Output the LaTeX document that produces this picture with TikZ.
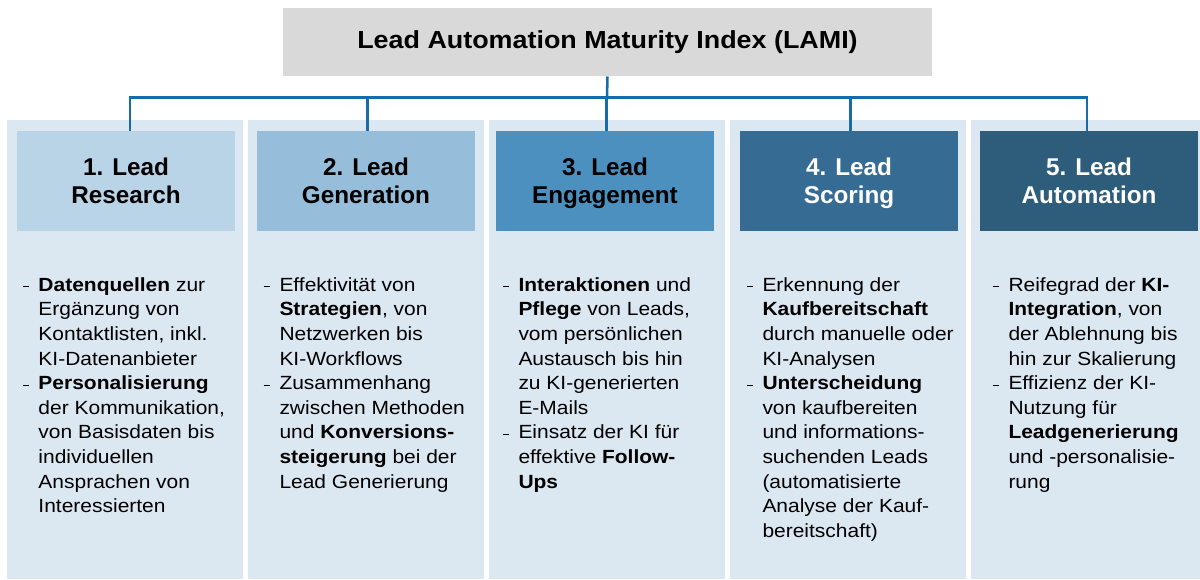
\documentclass[tikz,border=0pt]{standalone}
\usepackage{fontspec}
\setmainfont{Liberation Sans}
\newfontfamily\bodyfont[FakeStretch=1.1]{Liberation Sans}
\newfontfamily\titlefont[FakeStretch=1.09]{Liberation Sans}
\usetikzlibrary{positioning}

\definecolor{titlegray}{RGB}{217,217,217}
\definecolor{panelblue}{RGB}{219,231,241}
\definecolor{lineblue}{RGB}{24,106,168}
\definecolor{hdrone}{RGB}{185,212,231}
\definecolor{hdrtwo}{RGB}{150,189,218}
\definecolor{hdrthree}{RGB}{76,144,191}
\definecolor{hdrfour}{RGB}{54,108,147}
\definecolor{hdrfive}{RGB}{45,93,122}

\newcommand{\dl}{\makebox[12pt][l]{\rule[3pt]{5pt}{0.9pt}}}
\newcommand{\il}{\hspace*{12pt}}

\tikzset{every picture/.style={line width=0.75pt}}
\tikzset{
  titlebox/.style={fill=titlegray, minimum width=486.75pt, minimum height=51pt, inner sep=0pt, font=\titlefont\bfseries\fontsize{18.5}{22}\selectfont},
  hdrbox/.style={minimum width=163.5pt, minimum height=75pt, inner sep=0pt, text depth=0pt, align=center, font=\bfseries\fontsize{18.2}{21}\selectfont},
  bodytext/.style={anchor=north west, inner sep=0pt, align=left, font=\bodyfont\fontsize{14.3}{18.45}\selectfont},
  bus/.style={draw=lineblue, line width=1.9pt}
}

\begin{document}
\begin{tikzpicture}[x=0.75pt,y=0.75pt,yscale=-1,xscale=1]
\useasboundingbox (0,0) rectangle (1200,579);

%Shape: Rectangle (panels)
\foreach \px in {7,248,489,730,971} {
  \fill[panelblue] (\px,120) rectangle ({min(\px+236,1200)},579);
}

%Title
\node[titlebox] (title) at (607.5,42) {Lead Automation Maturity Index (LAMI)};

%Headers
\node[hdrbox, fill=hdrone] (h1) at (126,181) {1. Lead\\Research};
\node[hdrbox, fill=hdrtwo] (h2) at (366,181) {2. Lead\\Generation};
\node[hdrbox, fill=hdrthree] (h3) at (605,181) {3. Lead\\Engagement};
\node[hdrbox, fill=hdrfour, text=white] (h4) at (849,181) {4. Lead\\Scoring};
\node[hdrbox, fill=hdrfive, text=white] (h5) at (1089,181) {5. Lead\\Automation};

%Straight Lines
\coordinate (bus) at (607,97.5);
\draw[bus] (title.south) -- (bus);
\draw[bus] ([xshift=3pt]h1.north) -- ([xshift=3pt]h1.north |- bus) -- ([xshift=-1.5pt]h5.north |- bus) -- ([xshift=-1.5pt]h5.north);
\foreach \h in {h2,h3,h4} {
  \draw[bus] ([xshift=1pt]\h.north) -- ([xshift=1pt]\h.north |- bus);
}

%Text columns
\node[bodytext] (t1) at (22,277) {%
\dl\textbf{Datenquellen} zur\\
\il Ergänzung von\\
\il Kontaktlisten, inkl.\\
\il KI-Datenanbieter\\
\dl\textbf{Personalisierung}\\
\il der Kommunikation,\\
\il von Basisdaten bis\\
\il individuellen\\
\il Ansprachen von\\
\il Interessierten};

\node[bodytext] (t2) at (263,277) {%
\dl Effektivität von\\
\il\textbf{Strategien}, von\\
\il Netzwerken bis\\
\il KI-Workflows\\
\dl Zusammenhang\\
\il zwischen Methoden\\
\il und \textbf{Konversions-}\\
\il\textbf{steigerung} bei der\\
\il Lead Generierung};

\node[bodytext] (t3) at (502,277) {%
\dl\textbf{Interaktionen} und\\
\il\textbf{Pflege} von Leads,\\
\il vom persönlichen\\
\il Austausch bis hin\\
\il zu KI-generierten\\
\il E-Mails\\
\dl Einsatz der KI für\\
\il effektive \textbf{Follow-}\\
\il\textbf{Ups}};

\node[bodytext] (t4) at (746,277) {%
\dl Erkennung der\\
\il\textbf{Kaufbereitschaft}\\
\il durch manuelle oder\\
\il KI-Analysen\\
\dl\textbf{Unterscheidung}\\
\il von kaufbereiten\\
\il und informations-\\
\il suchenden Leads\\
\il (automatisierte\\
\il Analyse der Kauf-\\
\il bereitschaft)};

\node[bodytext] (t5) at (992,277) {%
\dl Reifegrad der \textbf{KI-}\\
\il\textbf{Integration}, von\\
\il der Ablehnung bis\\
\il hin zur Skalierung\\
\dl Effizienz der KI-\\
\il Nutzung für\\
\il\textbf{Leadgenerierung}\\
\il und -personalisie-\\
\il rung};

\end{tikzpicture}
\end{document}
